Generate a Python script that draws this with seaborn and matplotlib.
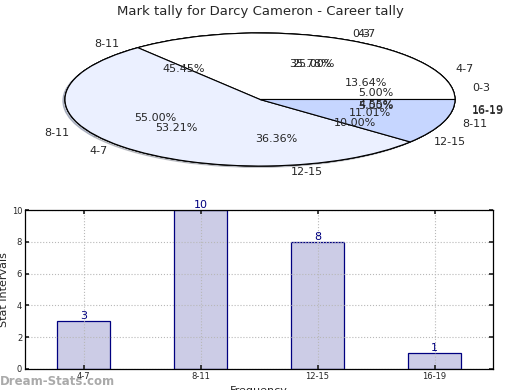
import numpy as np
import matplotlib
matplotlib.use("Agg")
import matplotlib.pyplot as plt
import seaborn as sns

# career tally (bar chart + one pie layer)
bins = ["4-7", "8-11", "12-15", "16-19"]
counts = [3, 10, 8, 1]

# other pie layers drawn on top of each other
bins_b = ["0-3", "4-7", "8-11", "12-15", "16-19"]
counts_b = [1, 5, 11, 2, 1]
bins_c = ["0-3", "4-7", "8-11"]
counts_c = [39, 58, 12]

sns.set_theme(style="white")
plt.rcParams['font.family'] = ['DejaVu Sans']

fig = plt.figure(figsize=(5.2, 3.9), dpi=100)
fig.suptitle("Mark tally for Darcy Cameron - Career tally", fontsize=9.5, y=0.988)

# --- squashed, overlapping pies ---
ax1 = fig.add_axes([65 / 520, 1 - 166 / 390, 390 / 520, 133 / 390])
wp = dict(edgecolor="black", linewidth=0.8)
shadow = dict(ox=-0.008, oy=-0.015, shade=0.4)
ax1.pie(counts, labels=bins, autopct="%1.2f%%", shadow=shadow,
        colors=["#ffffff", "#c6d6ff", "#ebf0ff", "#ffffff"],
        wedgeprops=wp, textprops=dict(fontsize=8))
ax1.pie(counts_b, labels=bins_b, autopct="%1.2f%%",
        colors=["#ffffff", "#ffffff", "#ebf0ff", "#ebf0ff", "#c6d6ff"],
        wedgeprops=wp, textprops=dict(fontsize=8))
ax1.pie(counts_c, labels=bins_c, autopct="%1.2f%%",
        colors=["#ffffff", "#ebf0ff", "#c6d6ff"],
        wedgeprops=wp, textprops=dict(fontsize=8))
ax1.set_aspect("auto")
ax1.set_xlim(-1, 1)
ax1.set_ylim(-1, 1)
ax1.axis("off")

# --- bar chart ---
ax2 = fig.add_axes([25 / 520, 1 - 369 / 390, 468 / 520, 159 / 390])
sns.barplot(x=bins, y=counts, color="#cccce6", saturation=1, width=0.45,
            edgecolor="#000080", linewidth=0.9, ax=ax2)
for i, v in enumerate(counts):
    ax2.text(i, v, str(v), ha="center", va="bottom", color="#000080", fontsize=8)
ax2.set_xlim(-0.5, 3.5)
ax2.set_ylim(0, 10)
ax2.set_yticks(range(0, 11, 2))
ax2.grid(True, linestyle=":", color="#b8b8b8", linewidth=0.8)
ax2.set_axisbelow(False)
ax2.tick_params(labelsize=6, direction="in", length=3, top=True, right=True,
                bottom=True, left=True, pad=2)
for s in ax2.spines.values():
    s.set_color("black")
    s.set_linewidth(0.9)
    s.set_zorder(5)
ax2.set_ylabel("Stat Intervals", fontsize=8, labelpad=2)
ax2.set_xlabel("Frequency", fontsize=8, labelpad=4)

fig.text(0.0, 0.005, "Dream-Stats.com", fontsize=8.5, fontweight="bold",
         color="#aaaaaa", ha="left", va="bottom")

fig.savefig("out.png", dpi=100)
